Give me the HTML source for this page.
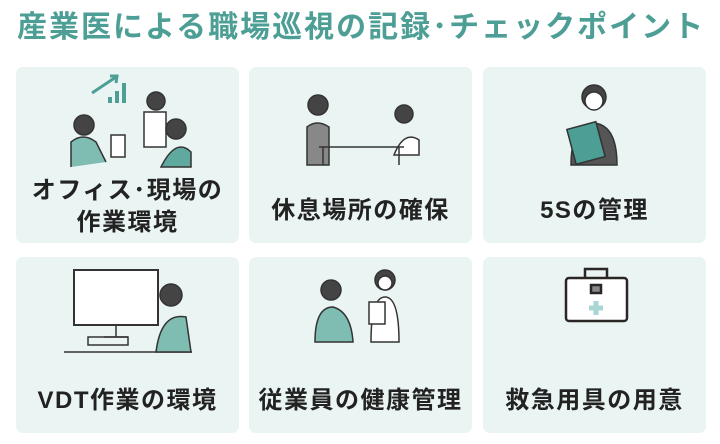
<!DOCTYPE html>
<html><head><meta charset="utf-8"><style>
*{margin:0;padding:0;box-sizing:border-box}
body{width:720px;height:444px;background:#fff;position:relative;overflow:hidden;font-family:"Liberation Sans","Noto Sans CJK JP",sans-serif}
h1{position:absolute;left:17px;top:8px;font-size:30px;line-height:40px;color:#4d9f96;font-weight:bold;letter-spacing:2px;white-space:nowrap}
.c{position:absolute;width:223px;height:176px;background:#eaf4f3;border-radius:7px}
.l{position:absolute;left:0;right:0;text-align:center;font-size:24px;font-weight:bold;color:#222;line-height:32px;letter-spacing:1.5px}
svg{position:absolute;left:0;top:0}
</style></head><body>
<h1>産業医による職場巡視の記録･チェックポイント</h1>

<div class="c" style="left:16px;top:67px">
<svg width="223" height="110" viewBox="0 0 223 110" fill="none" stroke="#333" stroke-width="1.5">
<path d="M76 26 L100 10 M94 9 L101 9 L100 16" stroke="#4d9f96" stroke-width="3"/>
<rect x="92" y="30" width="4" height="6" fill="#4d9f96" stroke="none"/><rect x="99" y="24" width="4" height="12" fill="#4d9f96" stroke="none"/><rect x="106" y="16" width="4" height="20" fill="#4d9f96" stroke="none"/>
<circle cx="140" cy="34" r="9" fill="#444"/><path d="M128 45 h22 v35 h-22z" fill="#fff"/>
<circle cx="68" cy="58" r="10" fill="#444"/><path d="M55 100 v-25 q12-10 25 0 l10 20" fill="#7fbcb2"/>
<rect x="95" y="68" width="14" height="22" fill="#fff"/>
<circle cx="160" cy="62" r="10" fill="#444"/><path d="M145 100 q15-30 30-15 v15z" fill="#5fa99f"/>
</svg>
<div class="l" style="top:108px">オフィス･現場の<br>作業環境</div></div>

<div class="c" style="left:249px;top:67px">
<svg width="223" height="110" viewBox="0 0 223 110" fill="none" stroke="#333" stroke-width="1.5">
<circle cx="69" cy="38" r="10" fill="#444"/><path d="M58 98 v-38 q10-8 22 0 v38z" fill="#888"/>
<circle cx="155" cy="47" r="9" fill="#444"/><path d="M145 88 q10-25 25-15 v15z" fill="#fff"/>
<path d="M70 80 h85 M74 80 v18 M150 80 v18"/>
</svg>
<div class="l" style="top:128px">休息場所の確保</div></div>

<div class="c" style="left:483px;top:67px">
<svg width="223" height="110" viewBox="0 0 223 110" fill="none" stroke="#333" stroke-width="1.5">
<circle cx="111" cy="30" r="12" fill="#444"/><circle cx="111" cy="34" r="9" fill="#fff"/>
<path d="M88 98 q0-40 23-42 q23 2 23 42z" fill="#555"/>
<rect x="88" y="58" width="30" height="36" fill="#4d9f96" transform="rotate(-15 103 76)"/>
</svg>
<div class="l" style="top:128px">5Sの管理</div></div>

<div class="c" style="left:16px;top:257px">
<svg width="223" height="110" viewBox="0 0 223 110" fill="none" stroke="#333" stroke-width="1.5">
<rect x="58" y="13" width="84" height="55" fill="#fff" stroke-width="2"/>
<path d="M100 68 v12 M88 80 h24 M48 95 h128"/>
<rect x="72" y="80" width="40" height="8"/>
<circle cx="155" cy="38" r="11" fill="#444"/><path d="M140 95 q5-40 30-35 l5 35z" fill="#7fbcb2"/>
</svg>
<div class="l" style="top:128px">VDT作業の環境</div></div>

<div class="c" style="left:249px;top:257px">
<svg width="223" height="110" viewBox="0 0 223 110" fill="none" stroke="#333" stroke-width="1.5">
<circle cx="82" cy="33" r="10" fill="#444"/><path d="M66 85 q0-35 18-35 q18 5 20 35z" fill="#7fbcb2"/>
<circle cx="136" cy="23" r="10" fill="#444"/><circle cx="136" cy="26" r="7" fill="#fff"/>
<path d="M122 85 q0-45 14-45 q14 0 14 45z" fill="#fff"/><rect x="120" y="45" width="16" height="22" fill="#fff"/>
</svg>
<div class="l" style="top:128px">従業員の健康管理</div></div>

<div class="c" style="left:483px;top:257px">
<svg width="223" height="110" viewBox="0 0 223 110" fill="none" stroke="#2b2626" stroke-width="2.5">
<rect x="83" y="21" width="61" height="43" rx="3" fill="#fff"/>
<path d="M102 21 v-9 h22 v9" />
<rect x="108" y="28" width="10" height="8" fill="#888"/>
<path d="M113 44 v14 M106 51 h14" stroke="#a8d6d3" stroke-width="5"/>
</svg>
<div class="l" style="top:128px">救急用具の用意</div></div>
</body></html>
